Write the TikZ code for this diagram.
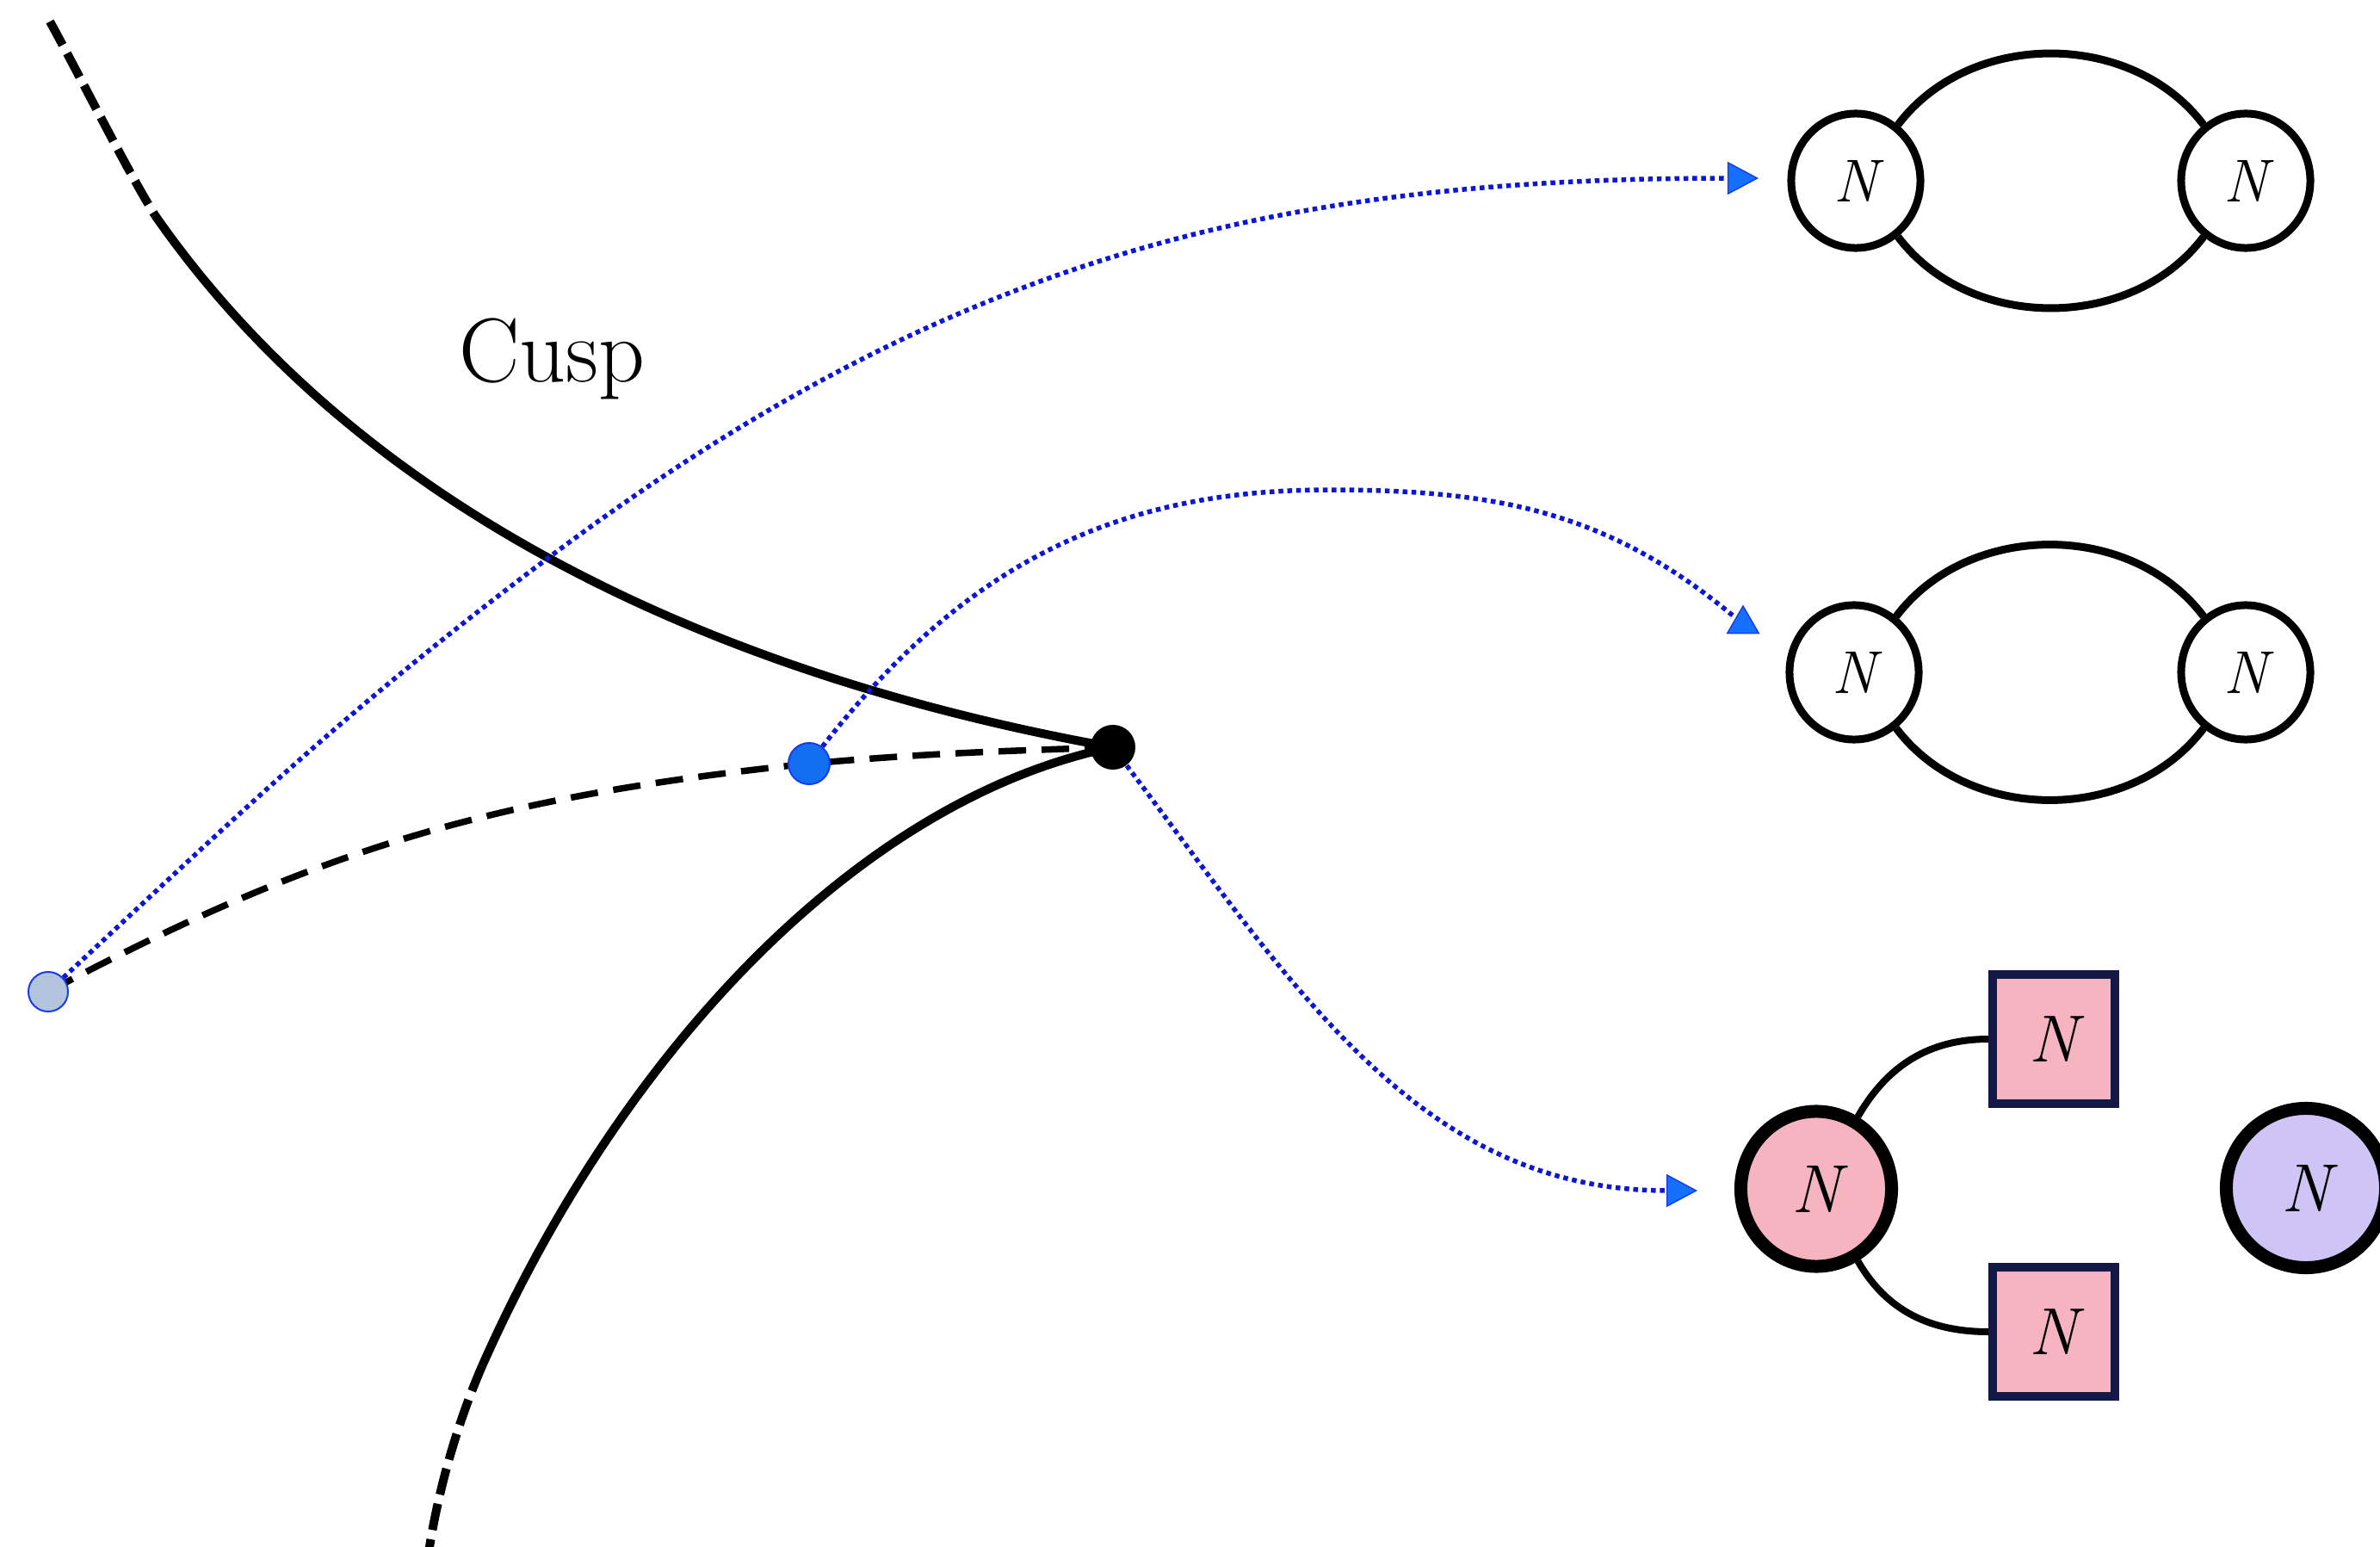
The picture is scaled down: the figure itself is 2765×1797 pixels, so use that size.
\documentclass[tikz,border=0pt]{standalone}
\usetikzlibrary{arrows.meta,shapes.geometric}
\pgfdeclarelayer{back}
\pgfsetlayers{back,main}

\definecolor{flowblue}{RGB}{12,22,215}
\definecolor{tipblue}{RGB}{22,112,255}
\definecolor{tipedge}{RGB}{25,60,235}
\definecolor{markblue}{RGB}{18,112,240}
\definecolor{greyblue}{RGB}{178,196,222}
\definecolor{nodepink}{RGB}{246,180,192}
\definecolor{nodeviolet}{RGB}{206,197,246}
\definecolor{navy}{RGB}{20,24,70}

\begin{document}
\begin{tikzpicture}[x=0.01cm, y=0.01cm,
  branch/.style={line width=0.1cm, line join=round},
  branchdash/.style={branch, dash pattern=on 0.31cm off 0.11cm},
  pathdash/.style={line width=0.075cm, dash pattern=on 0.32cm off 0.18cm},
  flow/.style={flowblue, line width=0.055cm, dash pattern=on 0.055cm off 0.048cm,
    -{Triangle[length=0.36cm, width=0.38cm, fill=tipblue, color=tipedge, line width=0.015cm]}},
  cuspdot/.style={circle, fill=black, minimum size=0.52cm, inner sep=0pt},
  markdot/.style={circle, fill=markblue, draw=tipedge, line width=0.02cm, minimum size=0.48cm, inner sep=0pt},
  startdot/.style={circle, fill=greyblue, draw=tipedge, line width=0.02cm, minimum size=0.46cm, inner sep=0pt},
  ring/.style={ellipse, draw, fill=white, line width=0.09cm, minimum width=1.5cm, minimum height=1.56cm,
    inner sep=0pt, font=\fontsize{20}{24}\selectfont\itshape},
  gauge/.style={ellipse, draw, line width=0.15cm, minimum width=1.75cm, minimum height=1.8cm,
    inner sep=0pt, font=\fontsize{22.5}{27}\selectfont\itshape},
  flavour/.style={rectangle, draw=navy, fill=nodepink, line width=0.1cm, minimum width=1.41cm,
    minimum height=1.49cm, inner sep=0pt, font=\fontsize{22}{26}\selectfont\itshape},
  loopline/.style={line width=0.09cm},
  legline/.style={line width=0.08cm}
]
\useasboundingbox (0,0) rectangle (2765,-1797);

% points on the cusp diagram
\node[cuspdot] (cusp) at (1293,-868) {};
\node[markdot] (bdot) at (940,-887) {};
\node[startdot] (gdot) at (56,-1152) {};

\node[anchor=base west, font=\fontsize{30}{36}\selectfont] (lbl) at (521,-443) {Cusp};

% the two branches meeting at the cusp, and the path between the points
\begin{pgfonlayer}{back}
  \draw[branchdash] (58,-25) .. controls (98,-98) and (145,-193) .. (180,-250);
  \draw[branch] (180,-250) .. controls (437,-619) and (880,-794) .. (cusp.center);
  \draw[branch] (cusp.center) .. controls (999,-928) and (722,-1221) .. (560,-1587);
  \draw[branchdash] (560,-1587) .. controls (537,-1640) and (510,-1720) .. (497,-1810);
  \draw[pathdash] (gdot.center) to[out=28, in=186] (bdot.center) to[out=5, in=182] (cusp.center);
\end{pgfonlayer}

% quiver diagrams
\node[ring] (a1) at (2156,-210) {N};
\node[ring] (a2) at (2609,-210) {N};
\draw[loopline] (a1) to[out=53, in=127] (a2);
\draw[loopline] (a1) to[out=-53, in=-127] (a2);

\node[ring] (b1) at (2154,-781) {N};
\node[ring] (b2) at (2609,-781) {N};
\draw[loopline] (b1) to[out=53, in=127] (b2);
\draw[loopline] (b1) to[out=-53, in=-127] (b2);

\node[gauge, fill=nodepink] (c1) at (2110,-1381) {N};
\node[flavour] (c2) at (2386,-1207) {N};
\node[flavour] (c3) at (2386,-1547) {N};
\node[gauge, fill=nodeviolet, minimum width=1.85cm, minimum height=1.85cm] (c4) at (2679,-1380) {N};
\draw[legline] (c1) to[out=60, in=180] (c2);
\draw[legline] (c1) to[out=-60, in=180] (c3);

% flow arrows
\coordinate (t1) at (2043,-207);
\coordinate (x1) at (629,-654);
\coordinate (top2) at (1543,-569);
\coordinate (t3) at (1972,-1383);
\node[regular polygon, regular polygon sides=3, fill=tipblue, draw=tipedge, line width=0.015cm,
  minimum size=0.42cm, inner sep=0pt] (tri2) at (2025,-725) {};

\draw[flow] (gdot) to[out=43, in=217] (x1) to[out=37, in=180] (t1);
\draw[flow, -] (bdot) to[out=52, in=180] (top2) to[out=0, in=140] (tri2);
\draw[flow] (cusp) to[out=-53, in=180] (t3);
\end{tikzpicture}
\end{document}
